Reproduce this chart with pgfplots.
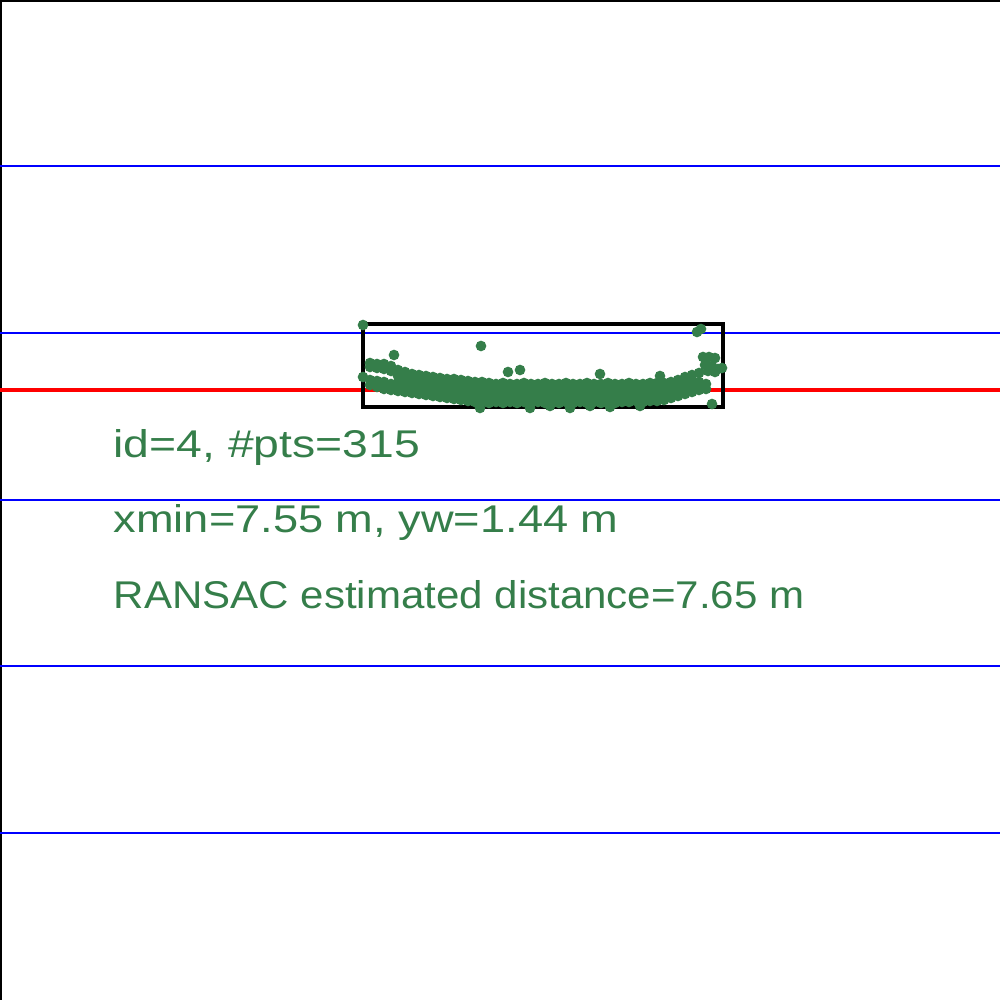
\documentclass[border=0pt]{standalone}
\usepackage{pgfplots}
\pgfplotsset{compat=1.18}
\usepackage{fontspec}
\setmainfont{Liberation Sans}
\definecolor{ptgreen}{RGB}{53,126,74}
\begin{document}
\begin{tikzpicture}
\begin{axis}[
  scale only axis, width=10cm, height=10cm,
  xmin=0, xmax=1000, ymin=0, ymax=1000, y dir=reverse,
  hide axis, clip=true,
]
% frame of the picture
\addplot[draw=none] coordinates {(0,0) (1000,1000)};
\addplot[black, line width=0.6pt] coordinates {(1,1000) (1,1) (1000,1)};
% horizontal guide lines
\addplot[blue, line width=0.3pt] coordinates {(0,166) (1000,166)};
\addplot[blue, line width=0.3pt] coordinates {(0,333) (1000,333)};
\addplot[blue, line width=0.3pt] coordinates {(0,500) (1000,500)};
\addplot[blue, line width=0.3pt] coordinates {(0,666) (1000,666)};
\addplot[blue, line width=0.3pt] coordinates {(0,833) (1000,833)};
% points
\addplot[only marks, color=ptgreen, mark=*, mark size=1.3pt, mark options={draw=ptgreen, fill=ptgreen}] coordinates {
(370,363)(370,367)(370,380)(370,385)
(377,364)(377,368)(377,381)(377,387)
(384,364)(384,369)(384,382)(384,389)
(391,366)(391,371)(391,384)(391,390)
(398,370)(398,376)(398,383)(398,391)
(405,372)(405,378)(405,385)(405,392)
(412,374)(412,380)(412,386)(412,393)
(419,375)(419,381)(419,387)(419,394)
(426,376)(426,382)(426,389)(426,395)
(433,377)(433,383)(433,390)(433,396)
(440,378)(440,384)(440,391)(440,397)
(447,379)(447,385)(447,392)(447,398)
(454,379)(454,386)(454,393)(454,399)
(461,380)(461,386)(461,393)(461,400)
(468,381)(468,387)(468,394)(468,401)
(475,382)(475,388)(475,395)(475,402)
(482,382)(482,388)(482,395)(482,402)
(489,383)(489,389)(489,396)(489,403)
(496,384)(496,390)(496,396)(496,402)
(503,383)(503,389)(503,396)(503,403)
(510,384)(510,390)(510,397)(510,402)
(517,384)(517,391)(517,396)(517,403)
(524,383)(524,390)(524,396)(524,402)
(531,384)(531,390)(531,397)(531,403)
(538,384)(538,389)(538,396)(538,402)
(545,383)(545,390)(545,396)(545,403)
(552,384)(552,390)(552,397)(552,402)
(559,384)(559,391)(559,396)(559,403)
(566,383)(566,389)(566,396)(566,402)
(573,384)(573,390)(573,397)(573,403)
(580,384)(580,390)(580,396)(580,402)
(587,383)(587,389)(587,396)(587,403)
(594,384)(594,390)(594,397)(594,402)
(601,384)(601,391)(601,396)(601,403)
(608,383)(608,390)(608,396)(608,402)
(615,384)(615,389)(615,397)(615,403)
(622,384)(622,390)(622,396)(622,402)
(629,383)(629,390)(629,396)(629,402)
(636,384)(636,389)(636,395)(636,401)
(643,384)(643,390)(643,396)(643,402)
(650,383)(650,389)(650,395)(650,401)
(657,383)(657,389)(657,395)(657,401)
(664,383)(664,389)(664,394)(664,400)
(671,382)(671,388)(671,393)(671,398)
(678,380)(678,386)(678,391)(678,396)
(685,377)(685,384)(685,389)(685,394)
(692,375)(692,383)(692,388)(692,392)
(699,373)(699,382)(699,386)(699,390)
(706,384)(706,389)
(480,408)(530,408)(570,408)(610,407)(640,406)(590,406)(550,406)
(703,357)(709,357)(715,358)(705,365)(712,366)(718,369)(722,368)(715,372)(708,371)
(363,325)(697,332)(701,329)(363,377)
(394,355)(481,346)(508,372)(520,370)(600,374)(660,376)(712,404)
};
% RANSAC line
\addplot[red, line width=1pt] coordinates {(0,390) (1000,390)};
% bounding box of the cluster
\addplot[black, line width=1.1pt] coordinates {(363,324) (723,324) (723,407) (363,407) (363,324)};
% texts
\node[anchor=base west, inner sep=0pt, text=ptgreen, font=\fontsize{11pt}{13pt}\selectfont] at (axis cs:113,458) {\scalebox{1.198}[1]{id=4, \#pts=315}};
\node[anchor=base west, inner sep=0pt, text=ptgreen, font=\fontsize{11pt}{13pt}\selectfont] at (axis cs:113,533) {\scalebox{1.169}[1]{xmin=7.55 m, yw=1.44 m}};
\node[anchor=base west, inner sep=0pt, text=ptgreen, font=\fontsize{11pt}{13pt}\selectfont] at (axis cs:113,608) {\scalebox{1.088}[1]{RANSAC estimated distance=7.65 m}};
\end{axis}
\end{tikzpicture}
\end{document}
